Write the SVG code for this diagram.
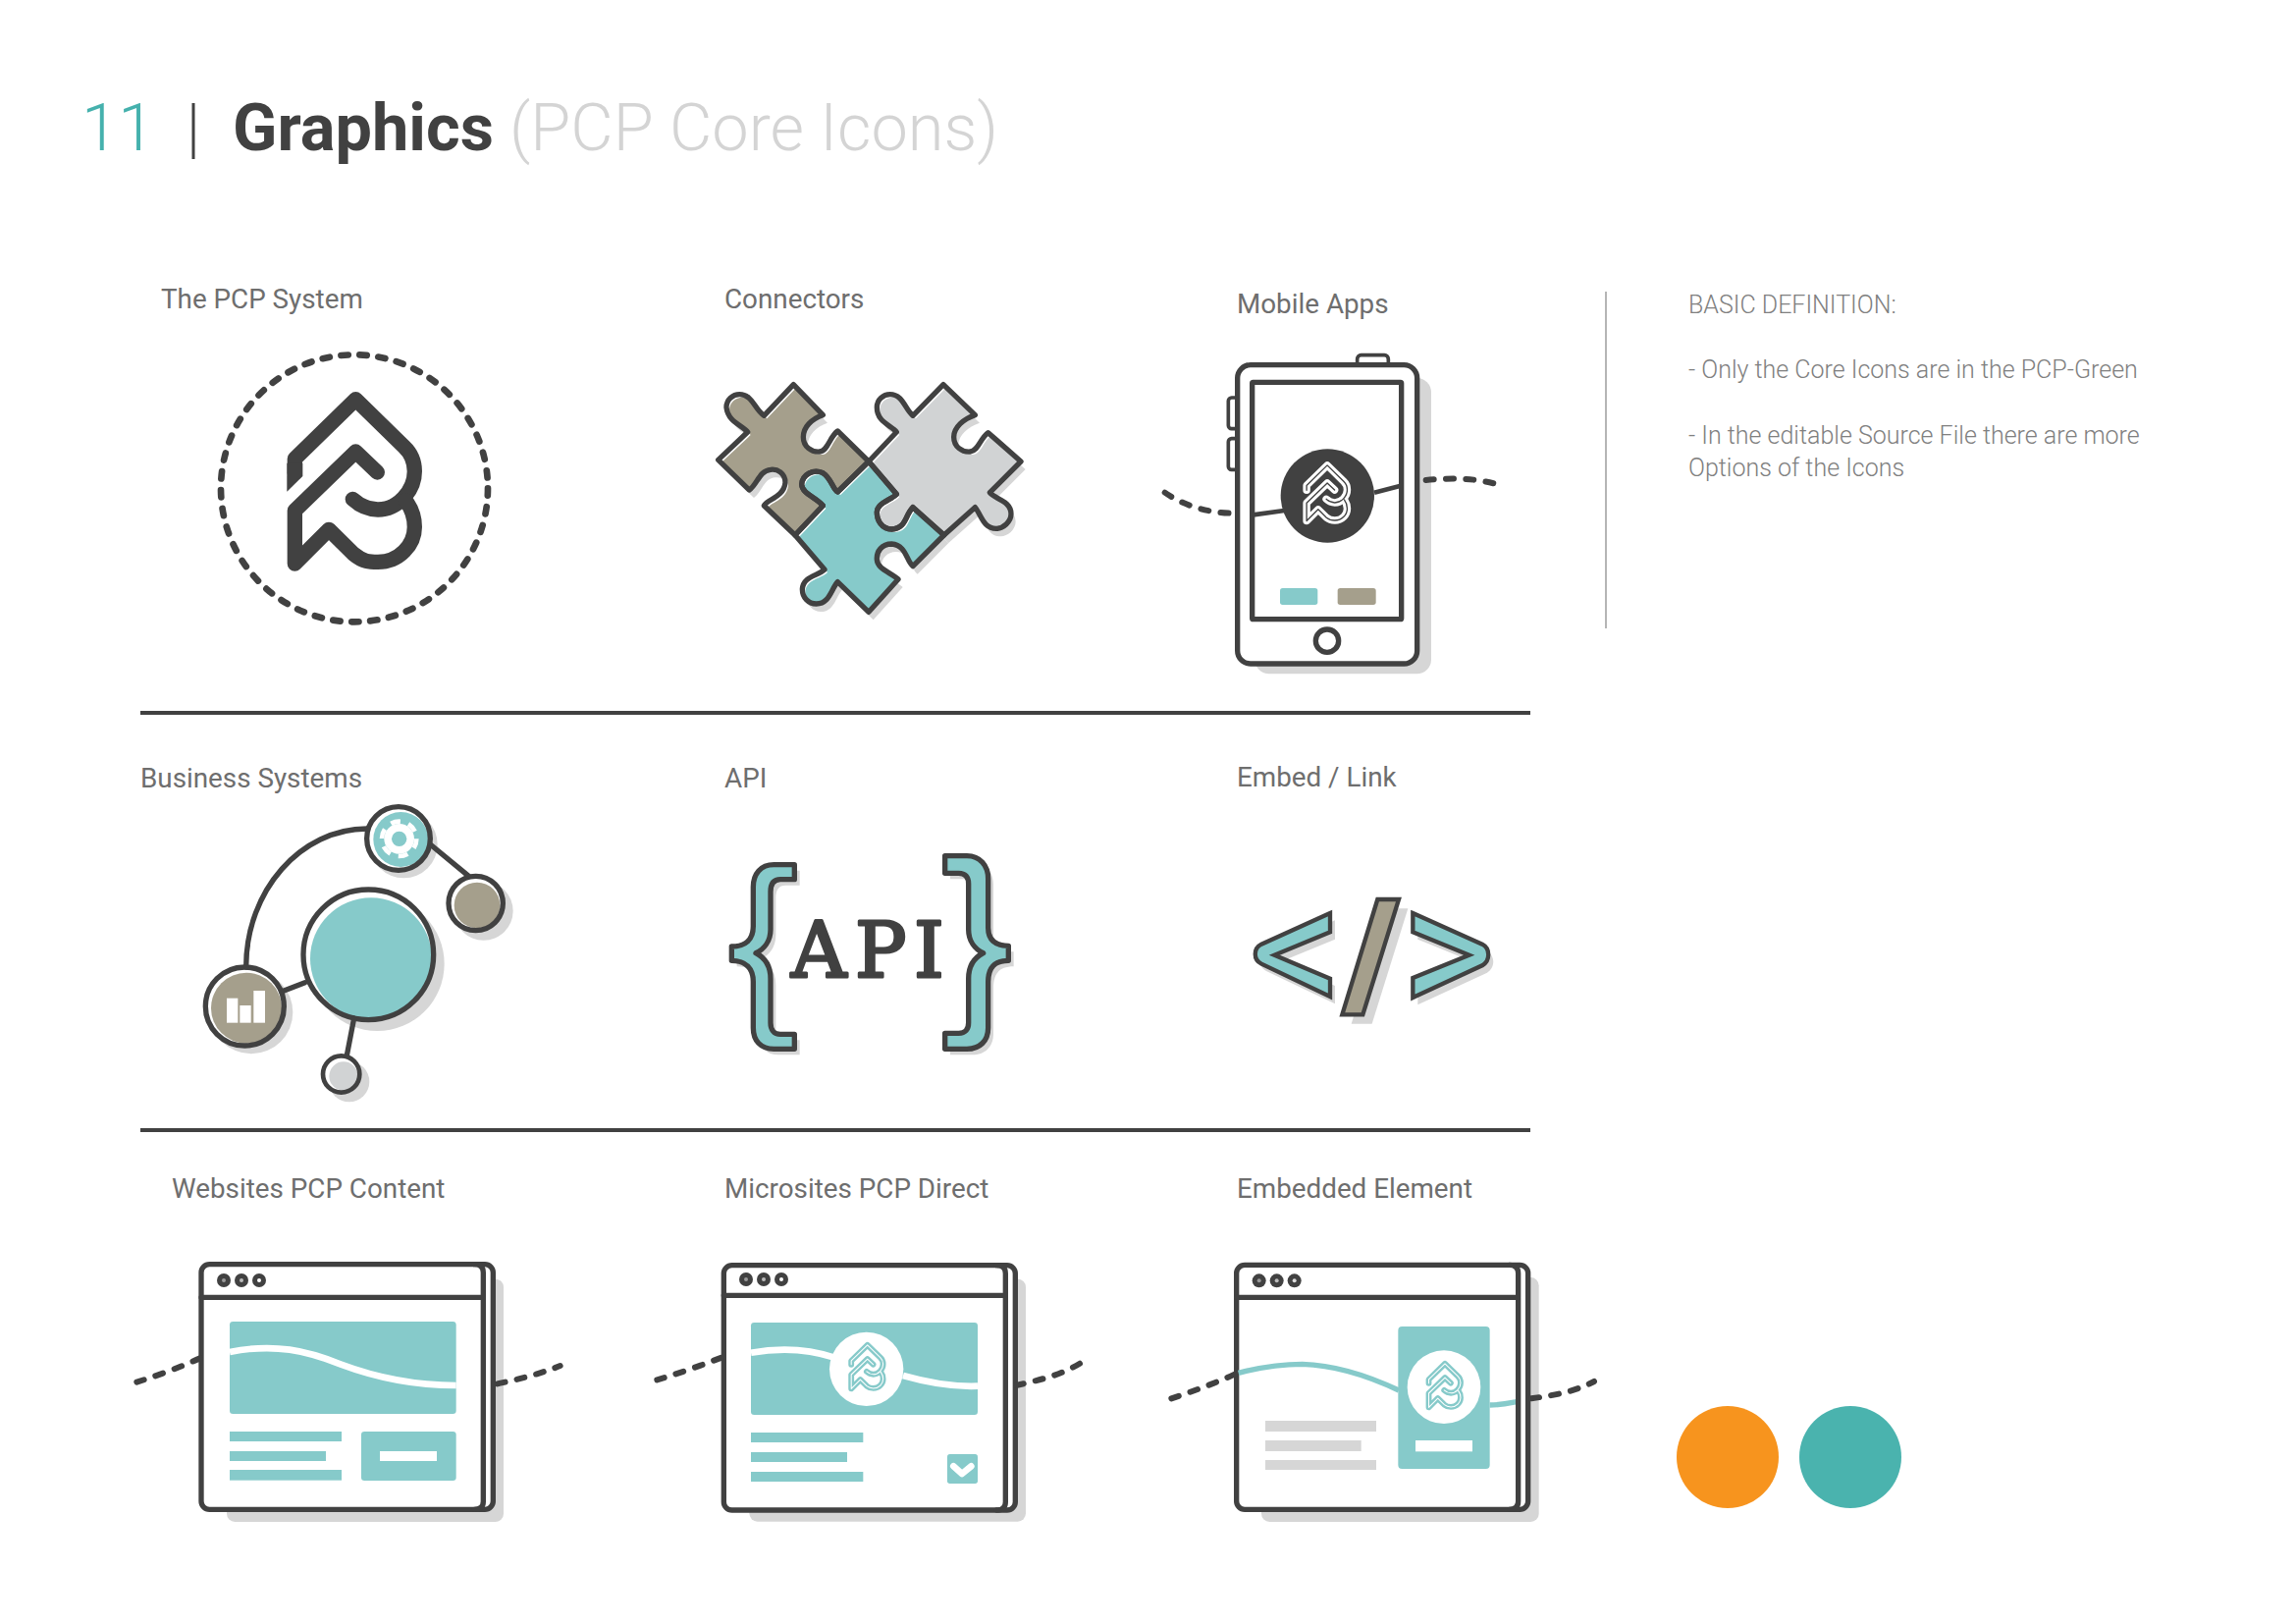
<svg xmlns="http://www.w3.org/2000/svg" width="2339" height="1654" viewBox="0 0 2339 1654">
<style>
text{font-family:Roboto,"Liberation Sans",sans-serif}
.lbl{font-size:27.800px;fill:#6e6e6e;font-weight:400}
.def{font-size:25px;fill:#808080;font-weight:300}
.d{fill:none;stroke:#414141;stroke-width:16;stroke-linejoin:round;stroke-linecap:round}
.dash{fill:none;stroke:#414141;stroke-width:18;stroke-linecap:round;stroke-dasharray:24 37}
.t{fill:#86caca}.g{fill:#a59f8c}.l{fill:#d1d3d4}.s{fill:#d6d6d6}.w{fill:#fff}.k{fill:#414141}
.lg{fill:none;stroke-linecap:round;stroke-linejoin:round;stroke-width:46}
.lo{fill:none;stroke-linecap:round;stroke-linejoin:round;stroke-width:66}
.li{fill:none;stroke-linecap:round;stroke-linejoin:round;stroke-width:12}
</style>
<defs>
<path id="la" d="M301 425L301 382L487 200L635 345Q667 375 667 420C667 480 615 537 555 537C525 537 500 525 478 505"/>
<path id="lb" d="M553 423L487 360L301 540L301 702L405 598L480 672C510 697 530 697 555 697C620 697 667 645 667 590C667 560 655 530 640 510"/>
<path id="p1" d="M295 65L385 158C350 170 325 195 325 225C325 255 350 272 375 270C400 268 405 225 430 207L525 300L430 393C415 385 410 350 385 335C355 322 322 340 320 370C322 400 365 410 385 435L300 525L205 435C215 415 265 410 270 365C270 335 245 322 225 325C190 328 185 370 160 387L65 295L155 210C140 190 95 180 90 135C90 110 110 95 130 95C170 95 175 140 205 160Z"/>
<path id="p2" d="M753 65L850 158C815 170 785 195 785 225C785 255 810 272 835 270C860 268 865 230 890 212L990 300L895 395C910 415 960 420 960 460C960 485 935 505 915 505C875 505 870 465 850 440L755 525L660 440C635 465 640 505 595 507C565 507 550 480 550 455C552 425 590 420 610 400L525 300L610 210C595 190 550 180 550 135C550 110 570 95 590 95C630 95 635 140 660 160Z"/>
<path id="p3" d="M525 300L610 400C590 420 552 425 550 455C550 480 565 507 595 507C640 505 635 465 660 440L755 525L660 620C640 605 640 555 595 552C565 552 548 575 550 600C552 630 595 640 615 660L525 760L430 668C410 690 405 735 365 735C340 735 322 715 322 690C325 650 370 650 390 630L300 525L385 435C365 410 322 400 320 370C322 340 355 322 385 335C410 350 415 385 430 393Z"/>
<clipPath id="c1"><use href="#p1"/></clipPath>
<clipPath id="c2"><use href="#p2"/></clipPath>
<clipPath id="c3"><use href="#p3"/></clipPath>
<path id="bl" d="M268 92L205 92C165 92 142 120 142 160L142 280C142 320 120 342 76 342L76 385C120 385 142 410 142 450L142 590C142 630 165 655 205 655L268 655L268 610L225 610C205 610 195 595 195 575L195 440C195 400 175 375 150 362C175 350 195 325 195 290L195 175C195 150 205 137 225 137L268 137Z"/>
<path id="br" d="M728 65L795 65C835 65 860 95 860 135L860 285C860 320 880 340 922 340L922 385C880 385 860 405 860 450L860 590C860 630 835 655 795 655L728 655L728 607L770 607C790 607 800 595 800 575L800 440C800 400 820 375 845 362C820 350 800 325 800 290L800 150C800 130 790 118 770 118L728 118Z"/>
<path id="el" d="M315 120L105 215C80 228 80 262 105 275L315 375L315 320L145 248L315 178Z"/>
<path id="er" d="M568 120L780 215C805 228 805 265 780 280L568 378L568 318L740 248L568 178Z"/>
<path id="es" d="M460 78L525 78L415 430L352 430Z"/>
</defs>
<rect width="2339" height="1654" fill="#fff"/>

<g id="title">
<text x="83" y="153" font-size="67" font-weight="300" style="fill:#45b1ad">11</text>
<rect x="195.500" y="105" width="3" height="57" class="k"/>
<text x="237" y="153" font-size="66.700" font-weight="700" style="fill:#414141">Graphics</text>
<text x="519" y="153" font-size="66.700" font-weight="300" style="fill:#d4d4d4">(PCP Core Icons)</text>
</g>

<g id="labels">
<text class="lbl" x="164" y="314">The PCP System</text>
<text class="lbl" x="738" y="314">Connectors</text>
<text class="lbl" x="1260" y="319">Mobile Apps</text>
<text class="lbl" x="143" y="802">Business Systems</text>
<text class="lbl" x="738" y="802">API</text>
<text class="lbl" x="1260" y="801">Embed / Link</text>
<text class="lbl" x="175" y="1220">Websites PCP Content</text>
<text class="lbl" x="738" y="1220">Microsites PCP Direct</text>
<text class="lbl" x="1260" y="1220">Embedded Element</text>
</g>

<g id="dividers">
<rect x="143" y="724" width="1416" height="4" class="k"/>
<rect x="143" y="1149" width="1416" height="4" class="k"/>
<rect x="1635" y="297" width="2" height="343" fill="#b5b5b5"/>
</g>

<g id="definition">
<text class="def" x="1720" y="319">BASIC DEFINITION:</text>
<text class="def" x="1720" y="385">- Only the Core Icons are in the PCP-Green</text>
<text class="def" x="1720" y="452">- In the editable Source File there are more</text>
<text class="def" x="1720" y="485">Options of the Icons</text>
</g>

<g id="pcp-system" transform="translate(200 340) scale(.33333)">
<circle cx="483" cy="472" r="408" fill="none" stroke="#414141" stroke-width="20" stroke-linecap="round" stroke-dasharray="22 35"/>
<g class="lg" stroke="#414141"><use href="#la"/><use href="#lb"/></g>
<polygon class="k" points="277,482 325,435 325,395 277,395"/>
</g>

<g id="puzzle" transform="translate(710 370) scale(.33333)">
<use href="#p1" class="s" transform="translate(14 24)"/><use href="#p2" class="s" transform="translate(14 24)"/><use href="#p3" class="s" transform="translate(14 24)"/>
<use href="#p1" class="w"/><use href="#p2" class="w"/><use href="#p3" class="w"/>
<g clip-path="url(#c1)"><use href="#p1" class="g" transform="translate(9 9)"/></g>
<g clip-path="url(#c2)"><use href="#p2" class="l" transform="translate(9 9)"/></g>
<g clip-path="url(#c3)"><use href="#p3" class="t" transform="translate(9 9)"/></g>
<use href="#p1" class="d"/><use href="#p2" class="d"/><use href="#p3" class="d"/>
</g>

<g id="phone" transform="translate(1170 340) scale(.33333)">
<rect x="325" y="135" width="539" height="904" rx="44" class="s"/>
<rect x="638" y="65" width="95" height="40" rx="12" class="w" stroke="#414141" stroke-width="11"/>
<rect x="244" y="195" width="30" height="95" rx="10" class="w" stroke="#414141" stroke-width="11"/>
<rect x="244" y="320" width="30" height="95" rx="10" class="w" stroke="#414141" stroke-width="11"/>
<rect x="272" y="95" width="549" height="913" rx="40" class="w" stroke="#414141" stroke-width="16"/>
<rect x="317" y="148" width="456" height="724" rx="3" class="d"/>
<path class="d" style="stroke-width:14;stroke-linecap:butt" d="M320 553L415 540M690 485L768 465"/>
<circle cx="547" cy="495" r="143" class="k"/>
<g transform="translate(545 485) scale(.339) translate(-483 -446)">
<g class="lo" stroke="#fff"><use href="#la"/><use href="#lb"/></g>
<g class="li" stroke="#414141"><use href="#la"/><use href="#lb"/></g>
</g>
<rect x="402" y="777" width="115" height="51" rx="8" class="t"/>
<rect x="578" y="777" width="117" height="51" rx="8" class="g"/>
<circle cx="546" cy="938" r="35" class="d"/>
</g>

<g id="business-systems" transform="translate(190 800) scale(.33333)">
<g id="hub">
<circle cx="583" cy="545" r="205" class="s"/>
<circle cx="556" cy="517" r="199" class="w"/>
<circle cx="564" cy="529" r="186" class="t"/>
<circle cx="556" cy="517" r="199" class="d"/>
</g>
<g id="chart">
<circle cx="198" cy="693" r="127" class="s"/>
<circle cx="178" cy="675" r="120" class="w"/>
<circle cx="183" cy="680" r="108" class="g"/>
<circle cx="178" cy="675" r="120" class="d"/>
<rect x="123" y="650" width="34" height="75" class="w"/><rect x="163" y="672" width="34" height="53" class="w"/><rect x="205" y="627" width="35" height="98" class="w"/>
</g>
<g id="gear">
<circle cx="664" cy="180" r="103" class="s"/>
<circle cx="648" cy="162" r="97" class="w"/>
<circle cx="655" cy="165" r="84" class="t"/>
<circle cx="648" cy="162" r="97" class="d"/>
<circle cx="650" cy="163" r="46" class="w"/>
<circle cx="650" cy="163" r="53" fill="none" stroke="#fff" stroke-width="14" stroke-dasharray="30 25.500"/>
<circle cx="650" cy="163" r="23" class="t"/>
</g>
<g id="node-taupe">
<circle cx="908" cy="383" r="90" class="s"/>
<circle cx="884" cy="360" r="83" class="w"/>
<circle cx="888" cy="366" r="70" class="g"/>
<circle cx="884" cy="360" r="83" class="d"/>
</g>
<g id="node-grey">
<circle cx="497" cy="905" r="62" class="s"/>
<circle cx="473" cy="882" r="56" class="w"/>
<circle cx="480" cy="888" r="44" class="l"/>
<circle cx="473" cy="882" r="56" class="d" style="stroke-width:14"/>
</g>
</g>

<g id="api" transform="translate(720 850) scale(.33333)">
<use href="#bl" class="s" transform="translate(16 18)"/>
<use href="#br" class="s" transform="translate(16 18)"/>
<use href="#bl" class="t"/><use href="#br" class="t"/>
<use href="#bl" class="d"/><use href="#br" class="d"/>
</g>
<text id="api-text" x="806 871 931" y="995" font-size="78" style="font-family:'DejaVu Serif',serif;fill:#414141;stroke:#414141;stroke-width:3;stroke-linejoin:round">API</text>

<g id="embed" transform="translate(1250 890) scale(.33333)">
<use href="#el" class="s" transform="translate(15 22)"/><use href="#er" class="s" transform="translate(15 22)"/><use href="#es" class="s" transform="translate(28 28)"/>
<use href="#el" class="t"/><use href="#er" class="t"/><use href="#es" class="g"/>
<g style="stroke:#414141;stroke-width:13;fill:none;stroke-linejoin:miter"><use href="#el"/><use href="#er"/><use href="#es"/></g>
</g>

<g id="website" transform="translate(120 1261) scale(.33333)">
<rect x="333" y="125" width="846" height="742" rx="25" class="s"/>
<rect x="255" y="80" width="892" height="749" rx="25" class="w" stroke="#414141" stroke-width="16"/>
<path class="d" d="M1090 80Q1117 80 1117 105L1117 805Q1117 829 1090 829M255 181L1117 181"/>
<circle cx="324" cy="129" r="21" class="k"/><circle cx="378" cy="129" r="21" class="k"/><circle cx="432" cy="129" r="21" class="k"/>
<circle cx="324" cy="129" r="6" fill="#999"/><circle cx="378" cy="129" r="6" fill="#bbb"/><circle cx="432" cy="129" r="6" class="w"/>
<rect x="342" y="255" width="692" height="282" rx="10" class="t"/>
<path d="M342 348C480 320 580 345 680 385C800 430 920 450 1034 450" fill="none" stroke="#fff" stroke-width="20"/>
<rect x="342" y="591" width="342" height="30" class="t"/><rect x="342" y="651" width="294" height="30" class="t"/><rect x="342" y="708" width="342" height="32" class="t"/>
<rect x="744" y="591" width="290" height="150" rx="10" class="t"/><rect x="801" y="651" width="174" height="30" class="w"/>
</g>

<g id="microsite" transform="translate(650 1261) scale(.33333)">
<rect x="340" y="125" width="845" height="741" rx="25" class="s"/>
<rect x="262" y="83" width="891" height="748" rx="25" class="w" stroke="#414141" stroke-width="16"/>
<path class="d" d="M1096 83Q1123 83 1123 108L1123 806Q1123 831 1096 831M262 175L1123 175"/>
<circle cx="330" cy="126" r="21" class="k"/><circle cx="384" cy="126" r="21" class="k"/><circle cx="438" cy="126" r="21" class="k"/>
<circle cx="330" cy="126" r="6" fill="#999"/><circle cx="384" cy="126" r="6" fill="#bbb"/><circle cx="438" cy="126" r="6" class="w"/>
<rect x="345" y="258" width="693" height="282" rx="10" class="t"/>
<path d="M345 350C430 335 520 338 600 365M810 420C880 440 960 455 1038 452" fill="none" stroke="#fff" stroke-width="20"/>
<circle cx="698" cy="400" r="113" class="w"/>
<g transform="translate(700 392) scale(.266) translate(-483 -446)">
<g class="lo" stroke="#86caca"><use href="#la"/><use href="#lb"/></g>
<g class="li" stroke="#fff"><use href="#la"/><use href="#lb"/></g>
</g>
<rect x="345" y="594" width="343" height="30" class="t"/><rect x="345" y="654" width="294" height="30" class="t"/><rect x="345" y="714" width="343" height="30" class="t"/>
<rect x="945" y="660" width="93" height="90" rx="8" class="t"/>
<path d="M964 697L990 720L1018 697" fill="none" stroke="#fff" stroke-width="20" stroke-linejoin="round" stroke-linecap="round"/>
</g>

<g id="embedded-element" transform="translate(1170 1261) scale(.33333)">
<rect x="345" y="120" width="848" height="747" rx="25" class="s"/>
<rect x="269" y="82" width="891" height="747" rx="25" class="w" stroke="#414141" stroke-width="16"/>
<path d="M275 412C340 395 410 385 470 385C570 388 670 420 765 465M1043 510C1080 510 1100 505 1125 500" fill="none" stroke="#86caca" stroke-width="16"/>
<path class="d" d="M1103 82Q1130 82 1130 107L1130 804Q1130 829 1103 829M269 181L1130 181"/>
<circle cx="338" cy="130" r="21" class="k"/><circle cx="392" cy="130" r="21" class="k"/><circle cx="446" cy="130" r="21" class="k"/>
<circle cx="338" cy="130" r="6" fill="#999"/><circle cx="392" cy="130" r="6" fill="#bbb"/><circle cx="446" cy="130" r="6" fill="#ddd"/>
<rect x="763" y="270" width="280" height="435" rx="12" class="t"/>
<circle cx="903" cy="455" r="112" class="w"/>
<g transform="translate(905 449) scale(.266) translate(-483 -446)">
<g class="lo" stroke="#86caca"><use href="#la"/><use href="#lb"/></g>
<g class="li" stroke="#fff"><use href="#la"/><use href="#lb"/></g>
</g>
<rect x="816" y="618" width="174" height="34" class="w"/>
<rect x="357" y="558" width="339" height="33" class="s"/><rect x="357" y="618" width="293" height="33" class="s"/><rect x="357" y="678" width="339" height="30" class="s"/>
</g>

<g id="swatches">
<circle cx="1760" cy="1484" r="52" fill="#f7941e"/>
<circle cx="1885" cy="1484" r="52" fill="#4ab3ae"/>
</g>

<g id="connectors">
<g transform="translate(1170 340) scale(.33333)">
<path class="dash" d="M50 485C100 520 170 545 250 548"/>
<path class="dash" d="M848 447C920 440 990 440 1055 457"/>
</g>
<g transform="translate(190 800) scale(.33333)">
<path class="d" d="M182 555C182 320 350 132 552 132"/>
<path class="d" d="M745 180L860 275"/>
<path class="d" d="M290 630L362 602"/>
<path class="d" d="M512 711L490 825"/>
</g>
<g transform="translate(120 1261) scale(.33333)">
<path class="dash" d="M58 440C120 420 190 395 255 365"/>
<path class="dash" d="M1160 445C1230 430 1290 415 1352 390"/>
</g>
<g transform="translate(650 1261) scale(.33333)">
<path class="dash" d="M58 433C120 415 190 390 255 365"/>
<path class="dash" d="M1155 450C1220 435 1290 420 1352 382"/>
</g>
<g transform="translate(1170 1261) scale(.33333)">
<path class="dash" d="M70 490C130 470 200 445 265 415"/>
<path class="dash" d="M1170 490C1240 480 1300 470 1362 438"/>
</g>
</g>
</svg>
